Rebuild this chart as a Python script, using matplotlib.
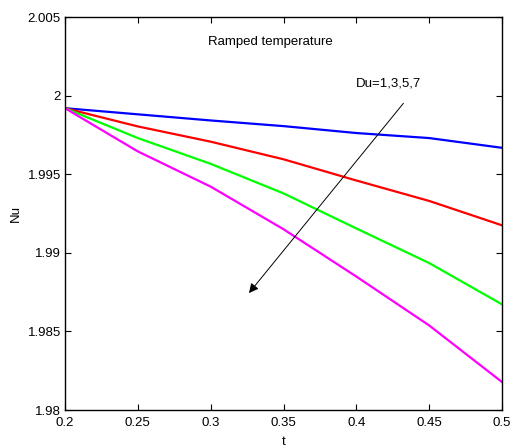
import matplotlib
matplotlib.use("Agg")
import matplotlib.pyplot as plt

plt.rcParams['font.family'] = ['Liberation Sans', 'DejaVu Sans']

t = [0.20, 0.25, 0.30, 0.35, 0.40, 0.45, 0.50]
nu_du1 = [1.99920, 1.99881, 1.99842, 1.99806, 1.99762, 1.99730, 1.99668]
nu_du3 = [1.99920, 1.99804, 1.99707, 1.99595, 1.99460, 1.99330, 1.99175]
nu_du5 = [1.99920, 1.99730, 1.99566, 1.99378, 1.99155, 1.98935, 1.98672]
nu_du7 = [1.99920, 1.99645, 1.99421, 1.99150, 1.98849, 1.98538, 1.98178]

series = [(nu_du1, '#0000ff'), (nu_du3, '#ff0000'), (nu_du5, '#00ff00'), (nu_du7, '#ff00ff')]

fig = plt.figure(figsize=(5.11, 4.48), dpi=100)
ax = fig.add_axes([0.1272, 0.0848, 0.8552, 0.8772])

for vals, col in series:
    ax.plot(t, vals, color=col, lw=1.6)

ax.set_xlim(0.2, 0.5)
ax.set_ylim(1.98, 2.005)
ax.set_xticks([0.2, 0.25, 0.3, 0.35, 0.4, 0.45, 0.5])
ax.set_xticklabels(['0.2', '0.25', '0.3', '0.35', '0.4', '0.45', '0.5'])
ax.set_yticks([1.98, 1.985, 1.99, 1.995, 2.0, 2.005])
ax.set_yticklabels(['1.98', '1.985', '1.99', '1.995', '2', '2.005'])
ax.tick_params(direction='in', top=True, right=True, labelsize=9.5, length=4)
ax.tick_params(axis='x', pad=5)
ax.tick_params(axis='y', pad=3)
for s in ax.spines.values():
    s.set_linewidth(1.0)

ax.set_xlabel('t', fontsize=9.5, labelpad=5)
ax.set_ylabel('Nu', fontsize=9.5, labelpad=4)

ax.text(0.2982, 2.00341, 'Ramped temperature', fontsize=9.5, va='center', ha='left')
ax.text(0.3998, 2.0008, 'Du=1,3,5,7', fontsize=9.5, va='center', ha='left')
ax.annotate('', xy=(0.3263, 1.98744), xytext=(0.4323, 1.99951),
            arrowprops=dict(arrowstyle='-|>', color='black', lw=0.7,
                            mutation_scale=14, shrinkA=0, shrinkB=0))

fig.savefig('out.png', dpi=100)
